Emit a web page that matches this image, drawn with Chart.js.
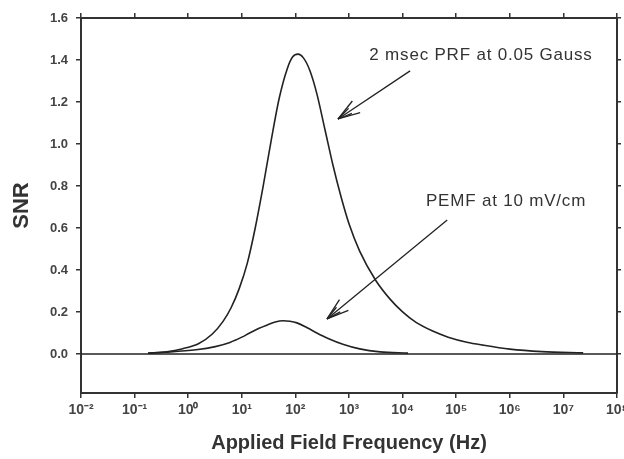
<!DOCTYPE html>
<html>
<head>
<meta charset="utf-8">
<script src="https://cdn.jsdelivr.net/npm/chart.js@4.4.0/dist/chart.umd.min.js"></script>
<style>
body{margin:0;background:#fff}
#wrap{width:624px;height:459px}
</style>
</head>
<body>
<div id="wrap"><canvas id="myChart" width="624" height="459"></canvas></div>
<script>
// values (x in Hz, y = SNR)
var prfFreq = [0.178, 0.398, 0.794, 1.58, 2.82, 4.47, 6.31, 8.91, 12.6, 17.8, 25.1, 35.5, 50.1, 70.8, 89.1, 112, 141, 186, 251, 355, 501, 708, 1000, 1580, 3160, 5890, 10000, 17800, 35500, 70800, 158000, 316000, 1000000, 3980000, 23400000]
var prfSnr = [0.004, 0.01, 0.025, 0.05, 0.095, 0.155, 0.22, 0.31, 0.43, 0.6, 0.8, 1.02, 1.22, 1.36, 1.415, 1.428, 1.41, 1.35, 1.24, 1.07, 0.9, 0.75, 0.62, 0.49, 0.35, 0.26, 0.2, 0.15, 0.11, 0.08, 0.056, 0.042, 0.023, 0.011, 0.005]

var pemfFreq = [0.18, 0.35, 1.4, 3.2, 6, 10, 14, 21, 30, 42, 59, 79, 107, 166, 251, 398, 794, 1585, 3800, 12600]
var pemfSnr = [0.004, 0.008, 0.02, 0.035, 0.055, 0.08, 0.1, 0.122, 0.138, 0.152, 0.158, 0.156, 0.148, 0.125, 0.1, 0.075, 0.045, 0.024, 0.01, 0.004]

var zeroFreq = [0.01, 1e8]
var zeroSnr = [0, 0]

var xTicks = [0.01, 0.1, 1, 10, 100, 1e3, 1e4, 1e5, 1e6, 1e7, 1e8]
var xTickLabels = ['10⁻²', '10⁻¹', '10⁰', '10¹', '10²', '10³', '10⁴', '10⁵', '10⁶', '10⁷', '10⁸']
var yTicks = [0, 0.2, 0.4, 0.6, 0.8, 1.0, 1.2, 1.4, 1.6]
var yTickLabels = ['0.0', '0.2', '0.4', '0.6', '0.8', '1.0', '1.2', '1.4', '1.6']

// text labels with arrows, placed in data units
var notes = [
    {text: '2 msec PRF at 0.05 Gauss', x: 290000, y: 1.424, fromX: 13800, fromY: 1.348, toX: 624, toY: 1.119},
    {text: 'PEMF at 10 mV/cm', x: 850000, y: 0.729, fromX: 68000, fromY: 0.638, toX: 389, toY: 0.167}
]

function toPoints(xs, ys){
    return xs.map(function(v, i){ return {x: v, y: ys[i]} })
}

var ink = '#222'
var labelFont = {family: '"Liberation Sans", Arial, sans-serif', size: 13, weight: 'bold'}

function drawArrow(ctx, x1, y1, x2, y2){
    ctx.beginPath()
    ctx.moveTo(x1, y1)
    ctx.lineTo(x2, y2)
    ctx.stroke()
    var ang = Math.atan2(y1 - y2, x1 - x2)
    var barbs = [[0.31, 23], [-0.31, 23], [0.2, 15], [-0.2, 15]]
    barbs.forEach(function(b){
        ctx.beginPath()
        ctx.moveTo(x2, y2)
        ctx.lineTo(x2 + Math.cos(ang + b[0]) * b[1], y2 + Math.sin(ang + b[0]) * b[1])
        ctx.stroke()
    })
}

var whiteBg = {
    id: 'whiteBg',
    beforeDraw: function(chart){
        var c = chart.ctx
        c.save()
        c.fillStyle = '#fff'
        c.fillRect(0, 0, chart.width, chart.height)
        c.restore()
    }
}

var notesPlugin = {
    id: 'notes',
    afterDatasetsDraw: function(chart){
        var c = chart.ctx
        var sx = chart.scales.x
        var sy = chart.scales.y
        c.save()
        c.strokeStyle = ink
        c.lineWidth = 1.3
        c.fillStyle = '#333'
        c.font = '17px "Liberation Sans", Arial, sans-serif'
        c.letterSpacing = '0.8px'
        c.textAlign = 'center'
        c.textBaseline = 'middle'
        notes.forEach(function(n){
            c.fillText(n.text, sx.getPixelForValue(n.x), sy.getPixelForValue(n.y))
            drawArrow(c, sx.getPixelForValue(n.fromX), sy.getPixelForValue(n.fromY),
                sx.getPixelForValue(n.toX), sy.getPixelForValue(n.toY))
        })
        c.restore()
    }
}

function lineSet(xs, ys){
    return {
        data: toPoints(xs, ys),
        borderColor: ink,
        borderWidth: 1.6,
        pointRadius: 0,
        fill: false,
        tension: 0.4,
        cubicInterpolationMode: 'monotone',
        xAxisID: 'x',
        yAxisID: 'y'
    }
}

function frameGrid(len){
    return {drawOnChartArea: false, drawTicks: true, tickLength: len, color: '#333', lineWidth: 1.5}
}
var frameBorder = {display: true, color: '#333', width: 2}

// keep the plot box fixed; let the end labels hang over the edge
function noSidePad(scale){
    scale.paddingLeft = 0
    scale.paddingRight = 0
    scale.paddingTop = 0
    scale.paddingBottom = 0
}

var ctx = document.getElementById('myChart')
var myChart = new Chart(ctx, {
    type: 'line',
    data: {
        datasets: [lineSet(zeroFreq, zeroSnr), lineSet(pemfFreq, pemfSnr), lineSet(prfFreq, prfSnr)]
    },
    options: {
        responsive: false,
        animation: false,
        devicePixelRatio: 1,
        layout: {padding: 0},
        plugins: {
            legend: {display: false},
            tooltip: {enabled: false}
        },
        scales: {
            x: {
                type: 'logarithmic',
                position: 'bottom',
                min: 0.01,
                max: 1e8,
                afterBuildTicks: function(scale){ scale.ticks = xTicks.map(function(v){ return {value: v} }) },
                afterFit: function(scale){ scale.height = 66; noSidePad(scale) },
                ticks: {
                    autoSkip: false,
                    maxRotation: 0,
                    padding: 4,
                    color: '#444',
                    font: {family: labelFont.family, size: 14, weight: 'bold'},
                    callback: function(v, i){ return xTickLabels[i] }
                },
                grid: frameGrid(5),
                border: frameBorder,
                title: {
                    display: true,
                    text: 'Applied Field Frequency (Hz)',
                    color: '#333',
                    font: {family: labelFont.family, size: 20, weight: 'bold'},
                    padding: {top: 0, bottom: 4}
                }
            },
            x2: {
                type: 'logarithmic',
                position: 'top',
                min: 0.01,
                max: 1e8,
                afterBuildTicks: function(scale){ scale.ticks = xTicks.map(function(v){ return {value: v} }) },
                afterFit: function(scale){ scale.height = 18; noSidePad(scale) },
                ticks: {display: false},
                grid: frameGrid(5),
                border: frameBorder
            },
            y: {
                type: 'linear',
                position: 'left',
                min: -0.186,
                max: 1.6,
                afterBuildTicks: function(scale){ scale.ticks = yTicks.map(function(v){ return {value: v} }) },
                afterFit: function(scale){ scale.width = 81; noSidePad(scale) },
                ticks: {
                    padding: 8,
                    color: '#444',
                    font: labelFont,
                    callback: function(v, i){ return yTickLabels[i] }
                },
                grid: frameGrid(5),
                border: frameBorder,
                title: {
                    display: true,
                    text: 'SNR',
                    color: '#333',
                    font: {family: labelFont.family, size: 22, weight: 'bold'},
                    padding: {top: 9, bottom: 0}
                }
            },
            y2: {
                type: 'linear',
                position: 'right',
                min: -0.186,
                max: 1.6,
                afterBuildTicks: function(scale){ scale.ticks = yTicks.map(function(v){ return {value: v} }) },
                afterFit: function(scale){ scale.width = 7; noSidePad(scale) },
                ticks: {display: false},
                grid: frameGrid(4),
                border: frameBorder
            }
        }
    },
    plugins: [whiteBg, notesPlugin]
})
</script>
</body>
</html>
